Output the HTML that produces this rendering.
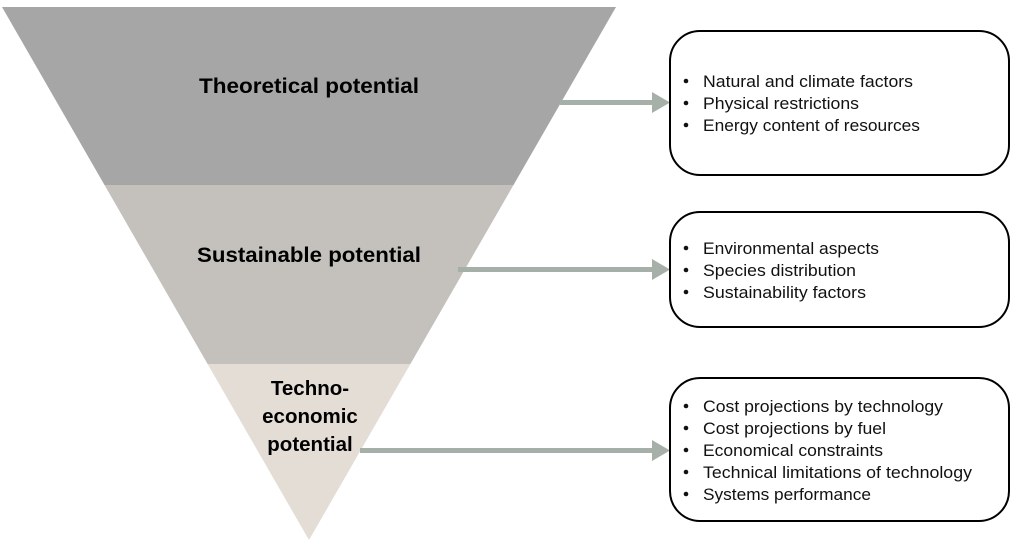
<!DOCTYPE html>
<html><head><meta charset="utf-8"><style>
html,body{margin:0;padding:0;background:#fff;}
svg{display:block;}
text{font-family:"Liberation Sans",sans-serif;}
</style></head><body>
<svg width="1017" height="544" viewBox="0 0 1017 544" xmlns="http://www.w3.org/2000/svg">
<polygon points="2,7 616,7 513.5,185 104.5,185" fill="#a6a6a6"/>
<polygon points="104.5,185 513.5,185 410.4,364 207.6,364" fill="#c4c1bd"/>
<polygon points="207.6,364 410.4,364 309,540" fill="#e3ddd6"/>
<g font-weight="bold" fill="#000" text-anchor="middle">
<text x="309" y="93" font-size="21" textLength="220" lengthAdjust="spacingAndGlyphs">Theoretical potential</text>
<text x="309" y="262" font-size="21" textLength="224" lengthAdjust="spacingAndGlyphs">Sustainable potential</text>
<text x="310" y="395" font-size="20.5">Techno-</text>
<text x="310" y="423" font-size="20.5">economic</text>
<text x="310" y="451" font-size="20.5">potential</text>
</g>
<g fill="#a7b0a8">
<rect x="560" y="100" width="96" height="5"/>
<polygon points="652,92 670,102.5 652,113"/>
<rect x="458" y="267" width="198" height="5"/>
<polygon points="652,259 670,269.5 652,280"/>
<rect x="360" y="448" width="296" height="5"/>
<polygon points="652,440 670,450.5 652,461"/>
</g>
<g fill="#fff" stroke="#000" stroke-width="2">
<rect x="670" y="31" width="339" height="144" rx="30"/>
<rect x="670" y="212" width="339" height="115" rx="30"/>
<rect x="670" y="378" width="339" height="143" rx="30"/>
</g>
<g font-size="16.5" fill="#111">
<g>
<circle cx="686" cy="81" r="2.3"/><text x="703" y="87" textLength="210" lengthAdjust="spacingAndGlyphs">Natural and climate factors</text>
<circle cx="686" cy="103" r="2.3"/><text x="703" y="109" textLength="156" lengthAdjust="spacingAndGlyphs">Physical restrictions</text>
<circle cx="686" cy="125" r="2.3"/><text x="703" y="131" textLength="217" lengthAdjust="spacingAndGlyphs">Energy content of resources</text>
</g>
<g>
<circle cx="686" cy="248" r="2.3"/><text x="703" y="254" textLength="176" lengthAdjust="spacingAndGlyphs">Environmental aspects</text>
<circle cx="686" cy="270" r="2.3"/><text x="703" y="276" textLength="153" lengthAdjust="spacingAndGlyphs">Species distribution</text>
<circle cx="686" cy="292" r="2.3"/><text x="703" y="298" textLength="163" lengthAdjust="spacingAndGlyphs">Sustainability factors</text>
</g>
<g>
<circle cx="686" cy="406" r="2.3"/><text x="703" y="412" textLength="240" lengthAdjust="spacingAndGlyphs">Cost projections by technology</text>
<circle cx="686" cy="428" r="2.3"/><text x="703" y="434" textLength="183" lengthAdjust="spacingAndGlyphs">Cost projections by fuel</text>
<circle cx="686" cy="450" r="2.3"/><text x="703" y="456" textLength="180" lengthAdjust="spacingAndGlyphs">Economical constraints</text>
<circle cx="686" cy="472" r="2.3"/><text x="703" y="478" textLength="269" lengthAdjust="spacingAndGlyphs">Technical limitations of technology</text>
<circle cx="686" cy="494" r="2.3"/><text x="703" y="500" textLength="168" lengthAdjust="spacingAndGlyphs">Systems performance</text>
</g>
</g>
</svg>
</body></html>
